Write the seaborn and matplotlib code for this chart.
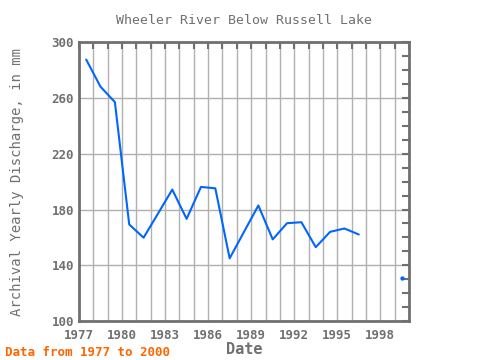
import numpy as np
import pandas as pd
import matplotlib
matplotlib.use('Agg')
import matplotlib.pyplot as plt
from matplotlib.ticker import MultipleLocator, FixedLocator
import seaborn as sns

# annual discharge (mm), plotted at mid-year
years = [1977, 1978, 1979, 1980, 1981, 1982, 1983, 1984, 1985, 1986,
         1987, 1988, 1989, 1990, 1991, 1992, 1993, 1994, 1995, 1996, 1999]
discharge = [287.5, 268, 257, 169.3, 159.8, 177, 194.3, 173.3, 196.2, 195.2,
             145, 164, 182.9, 158.6, 170.2, 170.9, 153, 164, 166.4, 162.1, 130.7]
segment = [0] * 20 + [1]
y_ticks = [100, 140, 180, 220, 260, 300]

df = pd.DataFrame(dict(year=years, mm=discharge, seg=segment))
df['x'] = df.year + 0.5

sns.set_style('white')
plt.rcParams['font.family'] = ['DejaVu Sans Mono']

grey = '#707070'
blue = '#0066ff'

fig = plt.figure(figsize=(4.8, 3.6), dpi=100)
ax = fig.add_axes([0.1646, 0.108, 0.6875, 0.775])

sns.lineplot(data=df[df.seg == 0], x='x', y='mm', color=blue, linewidth=1.5,
             estimator=None, ax=ax)
sns.scatterplot(data=df[df.seg == 1], x='x', y='mm', color=blue, s=8,
                edgecolor=blue, ax=ax)

ax.set_xlim(1977, 2000)
ax.set_ylim(100, 300)
ax.xaxis.set_major_locator(MultipleLocator(3))
ax.xaxis.set_minor_locator(MultipleLocator(1))
ax.yaxis.set_major_locator(FixedLocator(y_ticks))
ax.yaxis.set_minor_locator(MultipleLocator(10))
ax.grid(True, which='major', axis='y', color='#b0b0b0', linewidth=1)
ax.grid(True, which='both', axis='x', color='#b0b0b0', linewidth=1)
ax.set_axisbelow(True)

ax.tick_params(which='both', direction='in', top=True, right=True,
               color=grey, width=1.5, labelcolor=grey, labelsize=9,
               length=5)
ax.tick_params(axis='x', pad=6)
for lab in ax.get_xticklabels() + ax.get_yticklabels():
    lab.set_fontweight('bold')

for s in ax.spines.values():
    s.set_color(grey)
    s.set_linewidth(2)

ax.set_title('Wheeler River Below Russell Lake', color=grey, fontsize=9.5,
             pad=13)
ax.set_xlabel('Date', color=grey, fontsize=11, fontweight='bold', labelpad=0)
ax.set_ylabel('Archival Yearly Discharge, in mm', color=grey, fontsize=10,
              labelpad=20)
fig.text(0.01, 0.01, 'Data from 1977 to 2000', color='#ff6600', fontsize=9,
         fontweight='bold')

fig.savefig('out.png', dpi=100)
